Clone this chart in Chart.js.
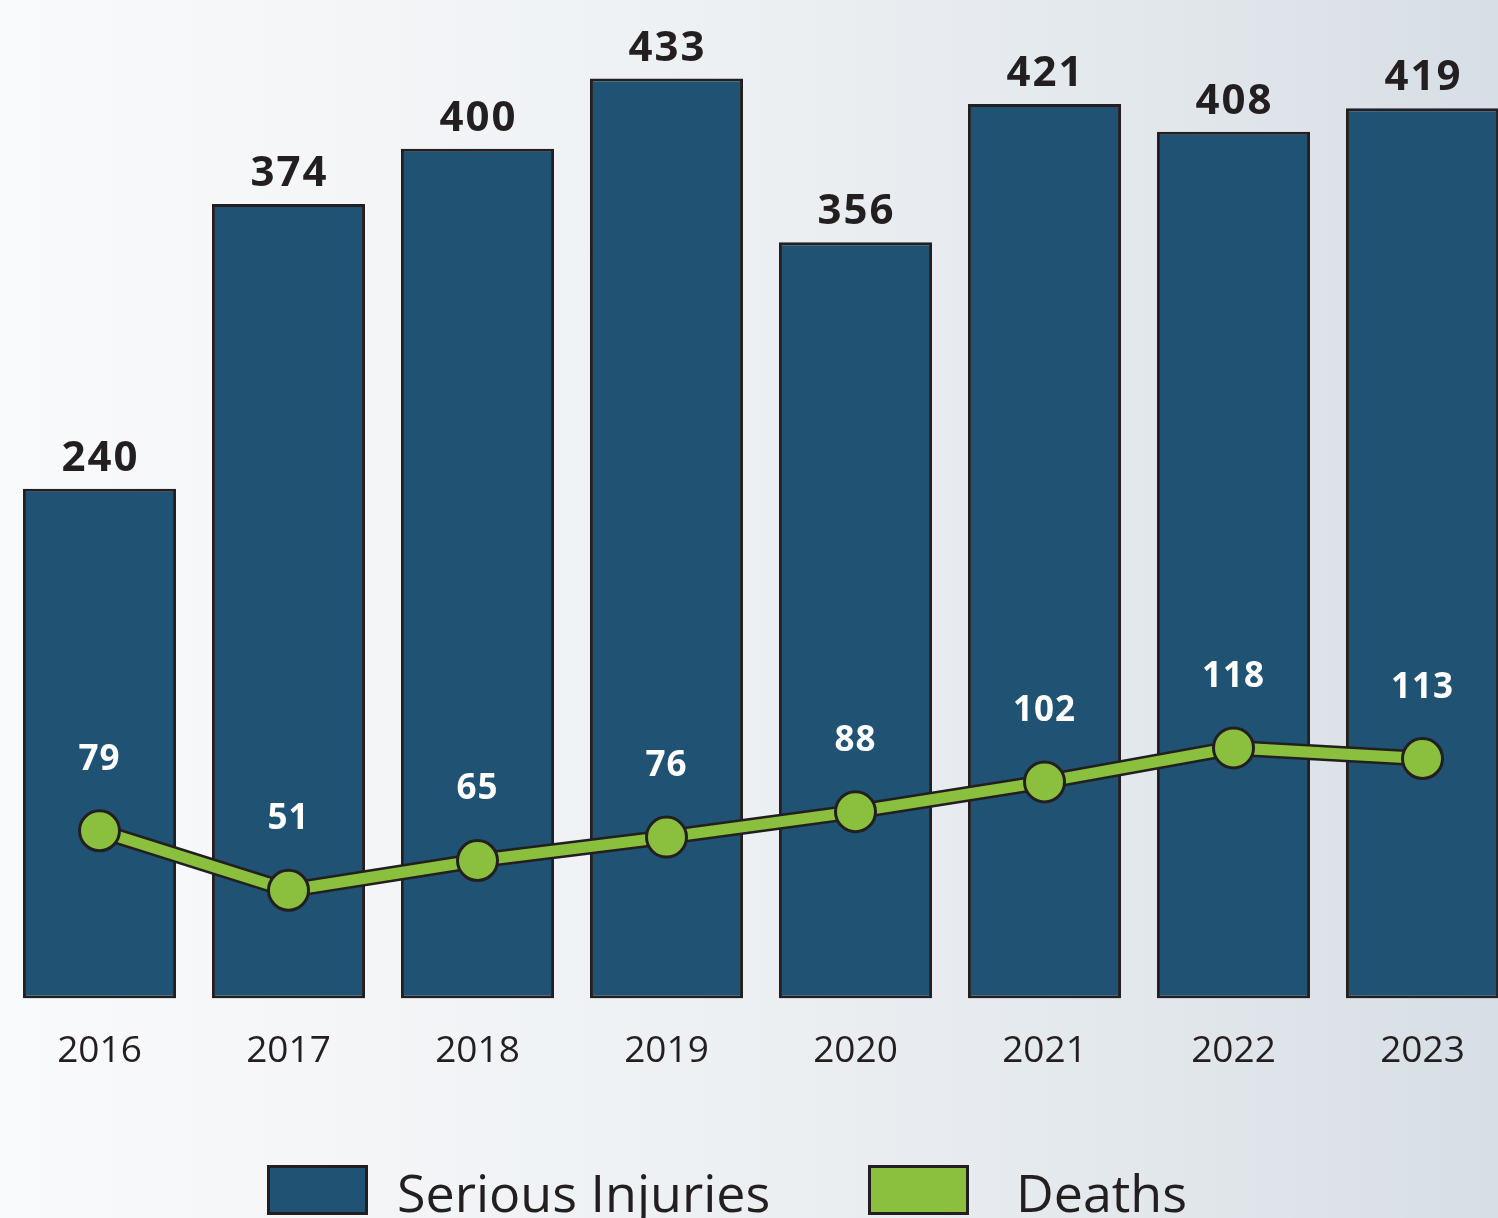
<!DOCTYPE html>
<html>
<head>
<meta charset="utf-8">
<script src="https://cdn.jsdelivr.net/npm/chart.js@4.4.1/dist/chart.umd.min.js"></script>
<style>
    html, body {
        margin: 0;
        padding: 0;
        width: 1498px;
        height: 1218px;
        overflow: hidden;
        background: linear-gradient(to right, #f9fafb 0%, #eef1f4 45%, #e3e8ec 75%, #d7dee5 100%);
    }
    #wrap {
        position: absolute;
        left: 0;
        top: 0;
        width: 1520px;
        height: 1218px;
    }
</style>
</head>
<body>
<div id="wrap"><canvas id="crashChart"></canvas></div>
<script>
// Chart data
const years = ['2016', '2017', '2018', '2019', '2020', '2021', '2022', '2023'];
const seriousInjuries = [240, 374, 400, 433, 356, 421, 408, 419];
const deaths = [79, 51, 65, 76, 88, 102, 118, 113];
const legendLabels = ['Serious Injuries', 'Deaths'];

const navy = '#1f5273';
const green = '#8bc03e';
const ink = '#231f20';
const fontFamily = '"Open Sans", "Noto Sans", sans-serif';

// Value labels for bars and the line
const valueLabels = {
    id: 'valueLabels',
    afterDatasetsDraw(chart) {
        const ctx = chart.ctx;
        ctx.save();
        ctx.textAlign = 'center';
        ctx.textBaseline = 'alphabetic';

        const barMeta = chart.getDatasetMeta(0);
        ctx.fillStyle = ink;
        ctx.font = '700 42px ' + fontFamily;
        ctx.letterSpacing = '2px';
        barMeta.data.forEach((bar, i) => {
            ctx.fillText(String(seriousInjuries[i]), bar.x + 1, bar.y - 18);
        });

        const lineMeta = chart.getDatasetMeta(2);
        ctx.fillStyle = '#ffffff';
        ctx.font = '700 35px ' + fontFamily;
        ctx.letterSpacing = '1px';
        lineMeta.data.forEach((pt, i) => {
            ctx.fillText(String(deaths[i]), pt.x, pt.y - 61);
        });
        ctx.restore();
    }
};

// Legend at the bottom
const bottomLegend = {
    id: 'bottomLegend',
    afterDraw(chart) {
        const ctx = chart.ctx;
        const items = [
            { label: legendLabels[0], color: navy, boxX: 267, textX: 397 },
            { label: legendLabels[1], color: green, boxX: 868, textX: 1016 }
        ];
        ctx.save();
        items.forEach(item => {
            ctx.fillStyle = item.color;
            ctx.fillRect(item.boxX, 1165, 101, 50);
            ctx.lineWidth = 3;
            ctx.strokeStyle = ink;
            ctx.strokeRect(item.boxX + 1.5, 1166.5, 98, 47);
            ctx.fillStyle = ink;
            ctx.font = '400 52px ' + fontFamily;
            ctx.textBaseline = 'alphabetic';
            ctx.textAlign = 'left';
            ctx.fillText(item.label, item.textX, 1212);
        });
        ctx.restore();
    }
};

const ctx = document.getElementById('crashChart').getContext('2d');
new Chart(ctx, {
    data: {
        labels: years,
        datasets: [{
            type: 'bar',
            label: legendLabels[0],
            data: seriousInjuries,
            backgroundColor: navy,
            borderColor: ink,
            borderWidth: 3,
            borderSkipped: false,
            categoryPercentage: 1,
            barPercentage: 0.81,
            order: 3
        }, {
            // dark outline under the green line
            type: 'line',
            label: 'outline',
            data: deaths,
            borderColor: ink,
            borderWidth: 16,
            pointRadius: 0,
            tension: 0,
            order: 2
        }, {
            type: 'line',
            label: legendLabels[1],
            data: deaths,
            borderColor: green,
            borderWidth: 11,
            pointRadius: 20,
            pointBackgroundColor: green,
            pointBorderColor: ink,
            pointBorderWidth: 3,
            tension: 0,
            order: 1
        }]
    },
    options: {
        responsive: true,
        maintainAspectRatio: false,
        animation: false,
        layout: {
            autoPadding: false,
            padding: { left: 5, right: 3, top: 0, bottom: 121 }
        },
        plugins: {
            legend: { display: false },
            tooltip: { enabled: false }
        },
        scales: {
            y: {
                display: false,
                min: 0,
                max: 470
            },
            x: {
                grid: { display: false },
                border: { display: false },
                ticks: {
                    color: ink,
                    padding: 23,
                    font: { family: fontFamily, size: 37 }
                }
            }
        }
    },
    plugins: [valueLabels, bottomLegend]
});
</script>
</body>
</html>
